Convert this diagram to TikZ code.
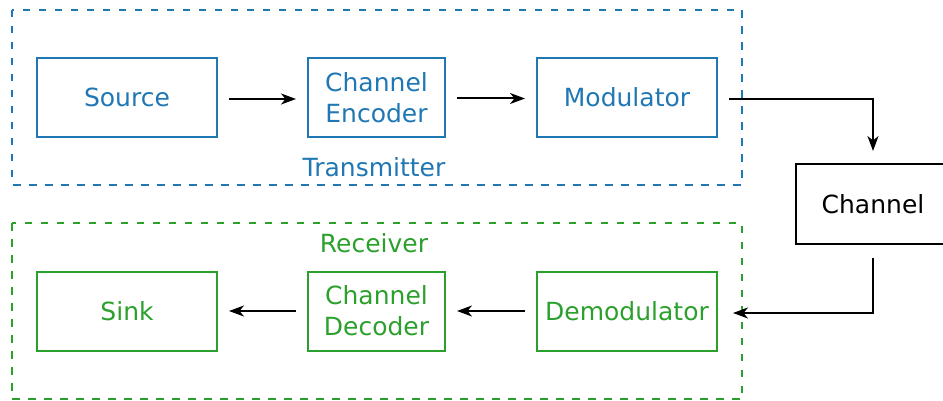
\documentclass[tikz,border=0pt]{standalone}
\usepackage{fontspec}
\setmainfont{DejaVu Sans}
\usetikzlibrary{arrows.meta}
\definecolor{mblue}{HTML}{1F77B4}
\definecolor{mgreen}{HTML}{2CA02C}
\tikzset{
  blk/.style={draw, line width=2pt, minimum height=79pt, align=center, font=\fontsize{25}{31}\selectfont, inner sep=0pt},
  wide/.style={minimum width=180pt},
  narrow/.style={minimum width=137pt},
  grp/.style={line width=2pt, dash pattern=on 7.5pt off 8.5pt},
  conn/.style={line width=2pt, -{Stealth[length=15pt,width=11pt,inset=4.5pt]}},
  lbl/.style={font=\fontsize{25}{31}\selectfont, inner sep=0pt}
}
\begin{document}
\begin{tikzpicture}[x=1pt,y=-1pt]
\useasboundingbox (0,0) rectangle (943,401);
\clip (0,0) rectangle (943,401);
% groups
\draw[grp, mblue] (12,10) rectangle (742,185);
\draw[grp, mgreen] (12,223) rectangle (742,399);
\node[lbl, text=mblue] (tx) at (374,167) {Transmitter};
\node[lbl, text=mgreen] (rx) at (374,243) {Receiver};
% transmitter blocks
\node[blk, wide, mblue] (src) at (127,97.5) {Source};
\node[blk, narrow, mblue] (enc) at (376.5,97.5) {Channel\\Encoder};
\node[blk, wide, mblue] (mod) at (627,97.5) {Modulator};
% channel
\node[blk, minimum width=154pt, minimum height=80pt, black] (chan) at (873,204) {Channel};
% receiver blocks
\node[blk, wide, mgreen] (sink) at (127,311) {Sink};
\node[blk, narrow, mgreen] (dec) at (376.5,311) {Channel\\Decoder};
\node[blk, wide, mgreen] (dem) at (627,311) {Demodulator};
% connectors
\draw[conn, shorten <=11pt, shorten >=11pt] ([yshift=-1.5pt]src.east) -- ([yshift=-1.5pt]enc.west);
\draw[conn, shorten <=11pt, shorten >=11pt] ([yshift=-1pt]enc.east) -- ([yshift=-1pt]mod.west);
\draw[conn, shorten <=11pt, shorten >=12pt] ([yshift=-1.5pt]mod.east) -| (chan.north);
\draw[conn, shorten <=13pt, shorten >=15pt] (chan.south) |- ([yshift=-2pt]dem.east);
\draw[conn, shorten <=11pt, shorten >=11pt] (dem.west) -- (dec.east);
\draw[conn, shorten <=11pt, shorten >=11pt] (dec.west) -- (sink.east);
\end{tikzpicture}
\end{document}
